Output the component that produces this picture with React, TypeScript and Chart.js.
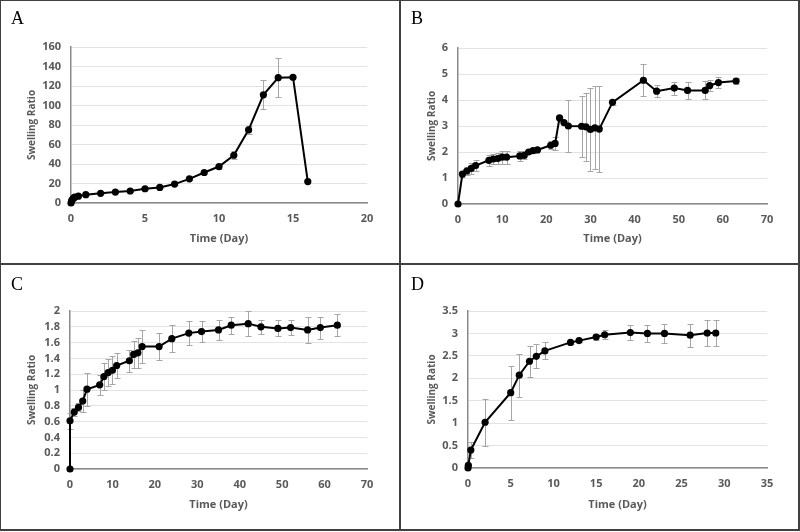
import React, { useEffect, useRef } from "react";
import { Chart, registerables } from "chart.js";
Chart.register(...registerables);

// ---- Data ----
const daysA = [0, 0.04, 0.08, 0.17, 0.25, 0.5, 1, 2, 3, 4, 5, 6, 7, 8, 9, 10, 11, 12, 13, 14, 15, 16];
const ratioA = [0, 2, 3.5, 5, 6, 7, 8.5, 9.9, 11.2, 12.3, 14.6, 16, 19.4, 24.8, 31.3, 37.4, 49, 75, 111, 128.5, 129, 22];
const errA = [0, 0.5, 0.5, 0.5, 0.5, 0.5, 0.6, 0.6, 0.8, 0.8, 1, 1, 1.2, 1.5, 2, 3, 4, 4, 15, 20, 0, 0];

const daysB = [0, 1, 2, 3, 4, 7, 8, 9, 10, 11, 14, 15, 16, 17, 18, 21, 22, 23, 24, 25, 28, 29, 30, 31, 32, 35, 42, 45, 49, 52, 56, 57, 59, 63];
const ratioB = [0, 1.15, 1.27, 1.37, 1.48, 1.68, 1.73, 1.75, 1.8, 1.8, 1.85, 1.87, 2.0, 2.05, 2.08, 2.26, 2.33, 3.31, 3.13, 3.0, 2.99, 2.97, 2.87, 2.93, 2.88, 3.91, 4.76, 4.34, 4.46, 4.37, 4.37, 4.55, 4.67, 4.73];
const errB = [0, 0.1, 0.15, 0.2, 0.2, 0.2, 0.2, 0.2, 0.25, 0.25, 0.2, 0.15, 0.05, 0.05, 0.05, 0.15, 0.25, 0.05, 0.05, 1.0, 1.17, 1.3, 1.6, 1.6, 1.66, 0.1, 0.62, 0.22, 0.25, 0.33, 0.35, 0.22, 0.2, 0.1];

const daysC = [0, 0, 1, 2, 3, 4, 7, 8, 9, 10, 11, 14, 15, 16, 17, 21, 24, 28, 31, 35, 38, 42, 45, 49, 52, 56, 59, 63];
const ratioC = [0, 0.61, 0.72, 0.78, 0.86, 1.01, 1.065, 1.17, 1.22, 1.25, 1.31, 1.37, 1.45, 1.47, 1.55, 1.55, 1.65, 1.72, 1.74, 1.76, 1.82, 1.84, 1.8, 1.78, 1.79, 1.76, 1.79, 1.82];
const errC = [0, 0.1, 0.05, 0.05, 0.14, 0.21, 0.13, 0.17, 0.17, 0.18, 0.16, 0.14, 0.17, 0.19, 0.21, 0.17, 0.17, 0.15, 0.13, 0.13, 0.11, 0.16, 0.09, 0.1, 0.09, 0.16, 0.14, 0.14];

const daysD = [0, 0.04, 0.33, 2, 5, 6, 7.2, 8, 9, 12, 13, 15, 16, 19, 21, 23, 26, 28, 29];
const ratioD = [0, 0.06, 0.4, 1.02, 1.68, 2.07, 2.38, 2.49, 2.61, 2.8, 2.84, 2.92, 2.97, 3.02, 3.0, 3.0, 2.96, 3.01, 3.01];
const errD = [0, 0.02, 0.17, 0.52, 0.6, 0.48, 0.35, 0.27, 0.19, 0.03, 0.03, 0.06, 0.1, 0.16, 0.19, 0.22, 0.26, 0.3, 0.3];

const panelLabels = ["A", "B", "C", "D"];
const xTitle = "Time (Day)";
const yTitle = "Swelling Ratio";

type Area = { left: number; top: number; right: number; bottom: number };
type PanelCfg = {
  days: number[];
  ratio: number[];
  err: number[];
  xMax: number;
  xStep: number;
  yMax: number;
  yStep: number;
  area: Area;
};

const W = 400;
const H = 266;

const panels: PanelCfg[] = [
  { days: daysA, ratio: ratioA, err: errA, xMax: 20, xStep: 5, yMax: 160, yStep: 20, area: { left: 71, top: 47, right: 367, bottom: 203 } },
  { days: daysB, ratio: ratioB, err: errB, xMax: 70, xStep: 10, yMax: 6, yStep: 1, area: { left: 58, top: 48, right: 367, bottom: 204 } },
  { days: daysC, ratio: ratioC, err: errC, xMax: 70, xStep: 10, yMax: 2, yStep: 0.2, area: { left: 70, top: 45, right: 367, bottom: 203 } },
  { days: daysD, ratio: ratioD, err: errD, xMax: 35, xStep: 5, yMax: 3.5, yStep: 0.5, area: { left: 68, top: 45, right: 367, bottom: 202 } },
];

const errorBarPlugin = {
  id: "errorBars",
  beforeDatasetsDraw(chart: any) {
    const ds = chart.data.datasets[0] as any;
    const errs: number[] = ds.errorBars || [];
    const xS = chart.scales.x;
    const yS = chart.scales.y;
    const ctx = chart.ctx as CanvasRenderingContext2D;
    ctx.save();
    ctx.strokeStyle = "#a6a6a6";
    ctx.lineWidth = 1;
    ds.data.forEach((p: any, i: number) => {
      const e = errs[i];
      if (!e) return;
      const x = Math.round(xS.getPixelForValue(p.x)) + 0.5;
      const y1 = Math.round(yS.getPixelForValue(p.y + e)) + 0.5;
      const y2 = Math.round(yS.getPixelForValue(p.y - e)) + 0.5;
      ctx.beginPath();
      ctx.moveTo(x, y1);
      ctx.lineTo(x, y2);
      ctx.moveTo(x - 3, y1);
      ctx.lineTo(x + 3, y1);
      ctx.moveTo(x - 3, y2);
      ctx.lineTo(x + 3, y2);
      ctx.stroke();
    });
    ctx.restore();
  },
};

const FONT = "'Open Sans', 'Liberation Sans', sans-serif";
const TEXT = "#595959";
const fmt = (v: any) => String(Number(Number(v).toFixed(3)));

function Panel({ cfg, label }: { cfg: PanelCfg; label: string }) {
  const ref = useRef<HTMLCanvasElement | null>(null);
  useEffect(() => {
    if (!ref.current) return;
    const { area } = cfg;
    const chart = new Chart(ref.current, {
      type: "line",
      data: {
        datasets: [
          {
            data: cfg.days.map((d, i) => ({ x: d, y: cfg.ratio[i] })),
            errorBars: cfg.err,
            borderColor: "#000000",
            backgroundColor: "#000000",
            borderWidth: 2,
            pointRadius: 3.6,
            pointBackgroundColor: "#000000",
            pointBorderColor: "#000000",
            pointBorderWidth: 0,
            tension: 0,
            clip: false,
          } as any,
        ],
      },
      options: {
        animation: false,
        responsive: false,
        devicePixelRatio: 1,
        events: [],
        layout: { padding: { left: 0, top: area.top, right: W - area.right, bottom: 0 } },
        plugins: { legend: { display: false }, tooltip: { enabled: false }, title: { display: false } },
        scales: {
          x: {
            type: "linear",
            min: 0,
            max: cfg.xMax,
            ticks: { stepSize: cfg.xStep, autoSkip: false, maxRotation: 0, callback: fmt, color: TEXT, padding: 9, font: { family: FONT, size: 11, weight: "bold" } },
            grid: { display: false, drawTicks: false },
            border: { display: true, color: "#8a8a8a", width: 1.5 },
            title: { display: true, text: xTitle, color: TEXT, padding: { top: 0, bottom: 21 }, font: { family: FONT, size: 11, weight: "bold" } },
            afterFit: (s: any) => {
              s.height = H - area.bottom;
            },
          },
          y: {
            type: "linear",
            min: 0,
            max: cfg.yMax,
            ticks: { stepSize: cfg.yStep, autoSkip: false, callback: fmt, color: TEXT, padding: 10, font: { family: FONT, size: 11, weight: "bold" } },
            grid: { display: true, color: "#e3e3e3", lineWidth: 1, drawTicks: false },
            border: { display: true, color: "#8a8a8a", width: 1.5 },
            title: { display: true, text: yTitle, color: TEXT, padding: { top: 26, bottom: 0 }, font: { family: FONT, size: 10, weight: "bold" } },
            afterFit: (s: any) => {
              s.width = area.left;
            },
          },
        },
      } as any,
      plugins: [errorBarPlugin],
    });
    return () => chart.destroy();
  }, [cfg]);
  return (
    <div style={{ position: "absolute", width: W, height: H }}>
      <canvas ref={ref} width={W} height={H} style={{ width: W, height: H, display: "block" }} />
      <div
        style={{
          position: "absolute",
          left: 11,
          top: 9,
          fontFamily: "'Liberation Serif', 'Times New Roman', serif",
          fontSize: 18,
          lineHeight: "18px",
          color: "#000",
        }}
      >
        {label}
      </div>
    </div>
  );
}

export default function App() {
  const positions = [
    { left: 0, top: 0 },
    { left: 400, top: 0 },
    { left: 0, top: 266 },
    { left: 400, top: 266 },
  ];
  const line = "#404040";
  return (
    <div style={{ position: "absolute", left: 0, top: 0, width: 800, height: 532, background: "#fff", overflow: "hidden" }}>
      {panels.map((p, i) => (
        <div key={i} style={{ position: "absolute", left: positions[i].left, top: positions[i].top, width: W, height: H }}>
          <Panel cfg={p} label={panelLabels[i]} />
        </div>
      ))}
      <div style={{ position: "absolute", left: 0, top: 0, width: 800, height: 1, background: line }} />
      <div style={{ position: "absolute", left: 0, top: 0, width: 1, height: 531, background: line }} />
      <div style={{ position: "absolute", left: 798, top: 0, width: 2, height: 531, background: line }} />
      <div style={{ position: "absolute", left: 0, top: 529, width: 800, height: 2, background: line }} />
      <div style={{ position: "absolute", left: 399, top: 0, width: 2, height: 531, background: line }} />
      <div style={{ position: "absolute", left: 0, top: 263, width: 800, height: 2, background: line }} />
    </div>
  );
}
